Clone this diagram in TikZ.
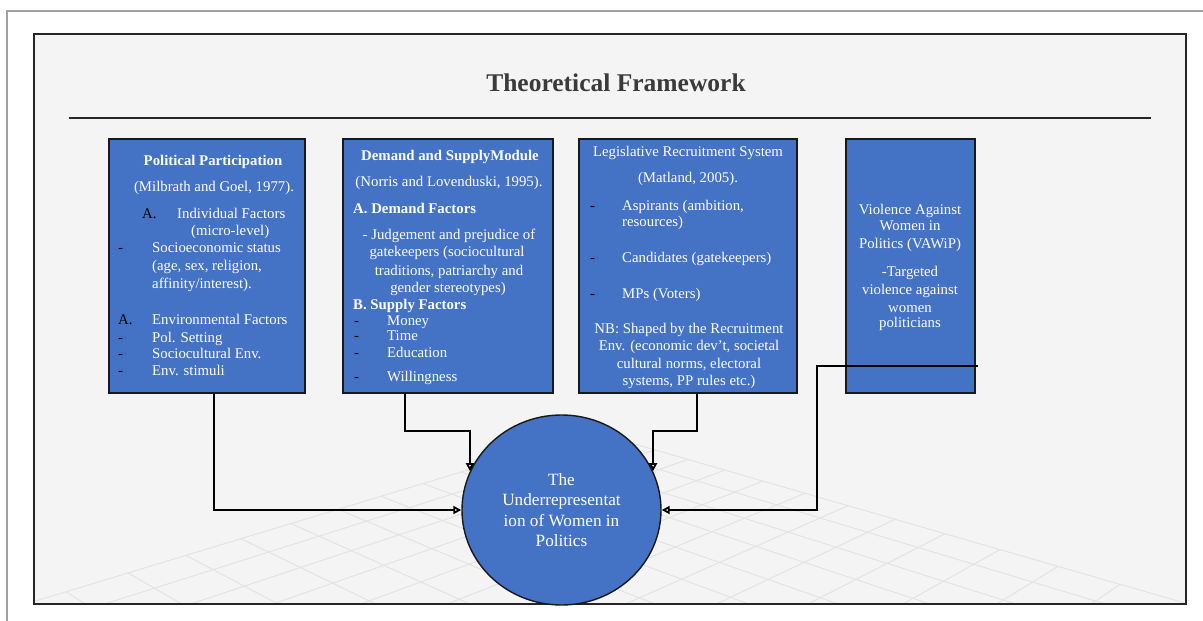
\documentclass[tikz,border=0pt]{standalone}
\usepackage{fontspec}
\setmainfont{Liberation Serif}
\usetikzlibrary{shapes.geometric,arrows.meta,calc}
\definecolor{boxblue}{HTML}{4472C4}
\definecolor{panel}{HTML}{F4F4F4}
\definecolor{framegray}{HTML}{A0A0A0}
\definecolor{titlegray}{HTML}{3A3A3A}
\definecolor{gridgray}{HTML}{E3E3E3}
\newcommand\bodyfs{\fontsize{14.8}{17}\selectfont}
\tikzset{
  box/.style={draw=black!90, line width=1.4pt, fill=boxblue, inner sep=0pt},
  txt/.style={text=white, inner sep=0pt, text height=10pt, text depth=3pt, font=\bodyfs},
  btxt/.style={txt, font=\bodyfs\bfseries},
  mk/.style={txt, text=black},
  conn/.style={draw=black, line width=1.8pt, -{Triangle[open,length=8pt,width=8pt]}},
  gridline/.style={draw=gridgray, line width=1pt},
}
\begin{document}
\begin{tikzpicture}[x=1pt,y=-1pt]
\useasboundingbox (0,0) rectangle (1203,621);
\fill[white] (0,0) rectangle (1203,621);
% outer page border
\draw[framegray, line width=2pt] (7,621) -- (7,11) -- (1203,11);
% inner panel
\fill[panel] (34,34) rectangle (1186,604);
% faint perspective floor grid
\begin{scope}
\clip (35,35) rectangle (1185,603);
\foreach \xa in {593,622,655,688,725,763,805,848,895,945,1000,1058,1120,1188,1260,1340,1420,1510} {
  \pgfmathsetmacro\py{432+0.289*(\xa-593)}
  \pgfmathsetmacro\s{636/(\py-24)}
  \pgfmathsetmacro\ex{1939+\s*(\xa-1939)}
  \draw[gridline] (\xa,\py) -- (\ex,660);
}
\foreach \xb in {593,564,531,498,461,423,381,338,291,241,186,128,66,-2,-74,-154,-240,-330} {
  \pgfmathsetmacro\qy{432+0.303*(593-\xb)}
  \pgfmathsetmacro\t{636/(\qy-24)}
  \pgfmathsetmacro\fx{-819+\t*(\xb+819)}
  \draw[gridline] (\xb,\qy) -- (\fx,660);
}
\end{scope}
\draw[black!85, line width=1.5pt] (34,34) rectangle (1186,604);
% title
\node[font=\fontsize{25.5}{30}\selectfont\bfseries, text=titlegray, inner sep=0pt] (title) at (616,83) {Theoretical Framework};
\draw[black!85, line width=1.5pt] (69,118) -- (1151,118);
% boxes
\node[box, minimum width=196pt, minimum height=254pt] (b1) at (207,266) {};
\node[box, minimum width=210pt, minimum height=254pt] (b2) at (448,266) {};
\node[box, minimum width=218pt, minimum height=254pt] (b3) at (688,266) {};
\node[box, minimum width=129pt, minimum height=254pt] (b4) at (910.5,266) {};
% ellipse
\node[ellipse, draw=black!90, line width=1.4pt, fill=boxblue, minimum width=199pt, minimum height=190pt, inner sep=0pt,
      text=white, align=center, font=\fontsize{17.2}{20.5}\selectfont] (el) at (561.5,510)
  {The\\Underrepresentat\\ion of Women in\\Politics};
% box 1 text
\node[btxt] (t1a) at (213,162) {Political Participation};
\node[txt] (t1b) at (214,188) {(Milbrath and Goel, 1977).};
\node[mk, anchor=west] (m1a) at (142,215) {A.};
\node[txt, anchor=west] (t1c) at (177,215) {Individual Factors};
\node[txt, anchor=west] (t1d) at (191,232) {(micro-level)};
\node[mk, anchor=west] (m1b) at (118,249) {-};
\node[txt, anchor=west] (t1e) at (152,249) {Socioeconomic status};
\node[txt, anchor=west] (t1f) at (152,267) {(age, sex, religion,};
\node[txt, anchor=west] (t1g) at (152,285) {affinity/interest).};
\node[mk, anchor=west] (m1c) at (118,321) {A.};
\node[txt, anchor=west] (t1h) at (152,321) {Environmental Factors};
\node[mk, anchor=west] (m1d) at (118,339) {-};
\node[txt, anchor=west] (t1i) at (152,339) {Pol. Setting};
\node[mk, anchor=west] (m1e) at (118,355) {-};
\node[txt, anchor=west] (t1j) at (152,355) {Sociocultural Env.};
\node[mk, anchor=west] (m1f) at (118,372) {-};
\node[txt, anchor=west] (t1k) at (152,372) {Env. stimuli};
% box 2 text
\node[btxt] (t2a) at (450,157) {Demand and SupplyModule};
\node[txt] (t2b) at (449,183) {(Norris and Lovenduski, 1995).};
\node[btxt, anchor=west] (t2c) at (353,210) {A. Demand Factors};
\node[txt] (t2d) at (449,236) {- Judgement and prejudice of};
\node[txt] (t2e) at (447,253) {gatekeepers (sociocultural};
\node[txt] (t2f) at (449,272) {traditions, patriarchy and};
\node[txt] (t2g) at (448,289) {gender stereotypes)};
\node[btxt, anchor=west] (t2h) at (353,306) {B. Supply Factors};
\node[mk, anchor=west] (m2a) at (354,322) {-};
\node[txt, anchor=west] (t2i) at (387,322) {Money};
\node[mk, anchor=west] (m2b) at (354,337) {-};
\node[txt, anchor=west] (t2j) at (387,337) {Time};
\node[mk, anchor=west] (m2c) at (354,354) {-};
\node[txt, anchor=west] (t2k) at (387,354) {Education};
\node[mk, anchor=west] (m2d) at (354,378) {-};
\node[txt, anchor=west] (t2l) at (387,378) {Willingness};
% box 3 text
\node[txt] (t3a) at (688,153) {Legislative Recruitment System};
\node[txt] (t3b) at (688,179) {(Matland, 2005).};
\node[mk, anchor=west] (m3a) at (590,207) {-};
\node[txt, anchor=west] (t3c) at (622,207) {Aspirants (ambition,};
\node[txt, anchor=west] (t3d) at (622,223) {resources)};
\node[mk, anchor=west] (m3b) at (590,259) {-};
\node[txt, anchor=west] (t3e) at (622,259) {Candidates (gatekeepers)};
\node[mk, anchor=west] (m3c) at (590,295) {-};
\node[txt, anchor=west] (t3f) at (622,295) {MPs (Voters)};
\node[txt] (t3g) at (689,330) {NB: Shaped by the Recruitment};
\node[txt] (t3h) at (689,347) {Env. (economic dev’t, societal};
\node[txt] (t3i) at (689,365) {cultural norms, electoral};
\node[txt] (t3j) at (689,382) {systems, PP rules etc.)};
% box 4 text
\node[txt] (t4a) at (910,211) {Violence Against};
\node[txt] (t4b) at (910,227) {Women in};
\node[txt] (t4c) at (910,245) {Politics (VAWiP)};
\node[txt] (t4d) at (910,273) {-Targeted};
\node[txt] (t4e) at (910,291) {violence against};
\node[txt] (t4f) at (910,309) {women};
\node[txt] (t4g) at (910,324) {politicians};
% connectors
\draw[conn] ([xshift=7pt]b1.south) |- (el.west);
\draw[conn] ([xshift=-43pt]b2.south) |- ([yshift=40pt]el.157) -- (el.157);
\draw[conn] ([xshift=9pt]b3.south) |- ([yshift=40pt]el.23) -- (el.23);
\draw[conn] ([xshift=2pt,yshift=-100pt]b4.east) -- ++(-161,0) |- (el.east);
\end{tikzpicture}
\end{document}
